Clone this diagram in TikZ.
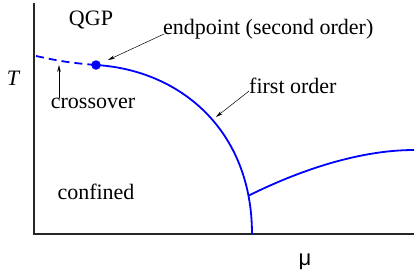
\documentclass[tikz,border=0pt]{standalone}
\usepackage{fontspec}
\setmainfont{Liberation Serif}
\newfontfamily\musans{Liberation Sans}
\usetikzlibrary{arrows.meta}
\begin{document}
\begin{tikzpicture}[x=1pt,y=-1pt,
  lbl/.style={font=\fontsize{22}{26}\selectfont, inner sep=0pt},
  axisline/.style={line width=1.5pt, draw=black!85},
  phase/.style={line width=1.8pt, draw=blue},
  pointer/.style={line width=0.5pt, -{Stealth[length=7pt,width=3.5pt]}}]
\useasboundingbox (0,0) rectangle (417,273);
% axes
\coordinate (top) at (34,3);
\coordinate (origin) at (34,234);
\coordinate (right) at (414,234);
\draw[axisline] (top) -- (origin) -- (right);
% crossover (dashed)
\coordinate (cstart) at (36,56);
\node[circle, fill=blue, inner sep=0pt, minimum size=9.5pt] (ep) at (96,65) {};
\draw[phase, dash pattern=on 8pt off 5pt] (cstart) to[bend right=4] (ep.center);
% first order line
\coordinate (bottom) at (252,234);
\draw[phase] (ep.center) .. controls (180,70) and (252,130) .. coordinate[pos=0.87] (junc) (bottom);
\coordinate (far) at (414,150);
\draw[phase] (junc) .. controls (300,170) and (360,150) .. (far);
% labels
\node[lbl] (qgp) at (91,20) {QGP};
\node[lbl, font=\fontsize{22}{26}\selectfont\itshape] (T) at (13,78) {T};
\node[lbl, anchor=west] (endp) at (163,29) {endpoint (second order)};
\node[lbl, anchor=west] (fo) at (249,86) {first order};
\node[lbl] (cross) at (93,103) {crossover};
\node[lbl] (conf) at (96,192) {confined};
\node[lbl, font=\fontsize{22}{26}\selectfont\musans] (mu) at (305,262) {μ};
% pointers
\coordinate (epTip) at (108,60);
\coordinate (foTip) at (216,117);
\coordinate (crTip) at (59,65);
\draw[pointer] (endp.west) ++(1,5) -- (epTip);
\draw[pointer] (fo.south west) ++(0,-3) -- (foTip);
\draw[pointer] (cross.north -| crTip) -- (crTip);
\end{tikzpicture}
\end{document}
